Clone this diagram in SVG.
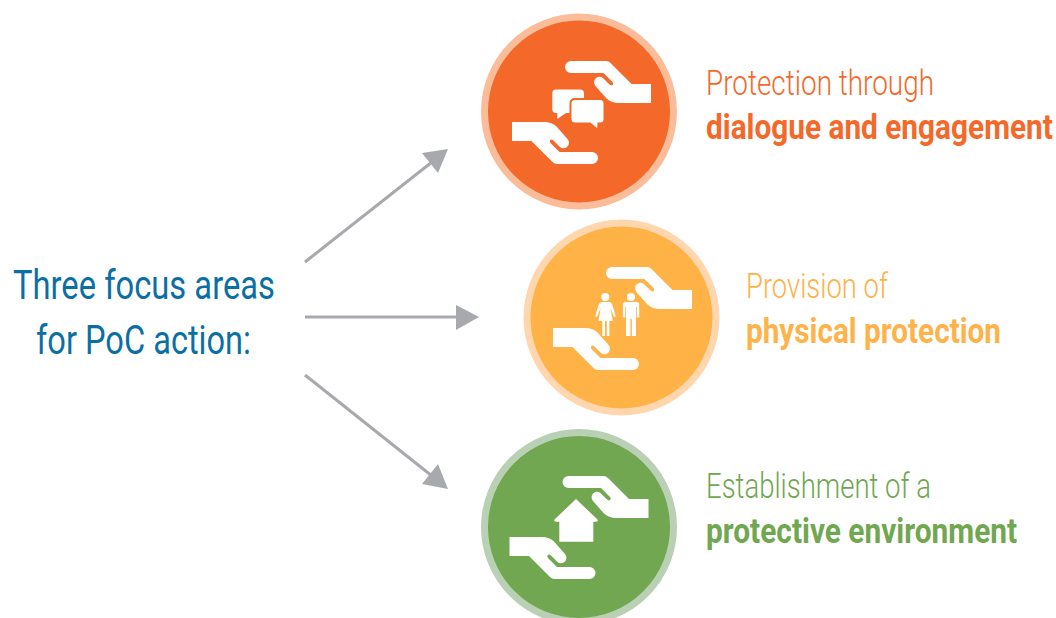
<svg xmlns="http://www.w3.org/2000/svg" xmlns:xlink="http://www.w3.org/1999/xlink" width="1056" height="618" viewBox="0 0 1056 618">
<style>
text{font-family:Roboto,"Liberation Sans",sans-serif;font-size:35px;font-weight:300}
.b{font-weight:700}
.t{font-size:41px;font-weight:400;fill:#0b6fa4}
.w{fill:#fff}
.o{fill:#f4692a;stroke:#fbbd99}
.y{fill:#ffb347;stroke:#ffd6ad}
.g{fill:#70a750;stroke:#b9d0b5}
.ring{stroke-width:7}
.line{fill:none;stroke:#a7a9ac;stroke-width:3}
.head{fill:#a7a9ac}
</style>
<defs>
<path id="hand" class="w" d="M571 61H606Q608.500 61 610.500 63L631.500 84H651V103H619Q611 103 606 98L595.500 86A5.500 5.500 0 0 1 603 78L609 84Q611.500 86.500 613 84.500Q613.500 83 612.500 82L603.500 73H571A6 6 0 0 1 571 61Z"/>
<g id="hands">
<use href="#hand"/>
<use href="#hand" transform="rotate(180 581.500 112.500)"/>
</g>
</defs>
<rect width="1056" height="618" fill="#fff"/>
<g id="connectors">
<path class="line" d="M305 262L432 162"/>
<path class="head" d="M448 149L422 153L438 173Z"/>
<path class="line" d="M305 317H458"/>
<path class="head" d="M479 317L456 305V330Z"/>
<path class="line" d="M305 375L432 476"/>
<path class="head" d="M448 489L422 484L438 464Z"/>
</g>
<g id="title">
<text class="t" x="13" y="299" textLength="262" lengthAdjust="spacingAndGlyphs">Three focus areas</text>
<text class="t" x="36" y="354" textLength="215" lengthAdjust="spacingAndGlyphs">for PoC action:</text>
</g>
<g id="node-dialogue">
<circle class="o ring" cx="579" cy="111.500" r="94.500"/>
<use href="#hands"/>
<path class="w" d="M556 89.500H580Q584 89.500 584 93.500V109Q584 113 580 113H566L557.300 119V113H556Q552.300 113 552.300 109V93.500Q552.300 89.500 556 89.500Z"/>
<path class="w" stroke="#f4692a" stroke-width="2" d="M575 99H600Q604.500 99 604.500 103.500V119Q604.500 123.500 600 123.500H598.500L598 130L590 123.500H575Q570.500 123.500 570.500 119V103.500Q570.500 99 575 99Z"/>
<text x="706" y="94.500" textLength="228" lengthAdjust="spacingAndGlyphs" fill="#f4692a">Protection through</text>
<text class="b" transform="translate(706 139) scale(.85 1)" textLength="408" lengthAdjust="spacingAndGlyphs" fill="#f4692a">dialogue and engagement</text>
</g>
<g id="node-physical">
<circle class="y ring" cx="621.500" cy="317.500" r="94.500"/>
<use href="#hands" transform="translate(41 206)"/>
<circle class="w" cx="605.300" cy="297" r="4"/>
<path class="w" d="M601.500 302H609.500Q611.500 302 612.300 304.500L615.800 316.500L614.200 317.200L610.500 308L612.800 321H609.400V336H606.800V321H605V336H602.300V321H598.500L600.600 308L596.900 317.200L595.200 316.500L598.700 304.500Q599.500 302 601.500 302Z"/>
<circle class="w" cx="631" cy="297" r="4"/>
<path class="w" d="M625.500 302H636.500Q639.200 302 639.200 304.500V317.500H636.800V307H636V336H631.800V319H630.400V336H626V307H625.300V317.500H622.900V304.500Q622.900 302 625.500 302Z"/>
<text x="746" y="297.500" textLength="142" lengthAdjust="spacingAndGlyphs" fill="#fdb24a">Provision of</text>
<text class="b" x="746" y="342.500" textLength="255" lengthAdjust="spacingAndGlyphs" fill="#fdb24a">physical protection</text>
</g>
<g id="node-environment">
<circle class="g ring" cx="579" cy="527" r="94.500"/>
<use href="#hands" transform="translate(-2.500 415)"/>
<path class="w" d="M576 499L597.500 519.500Q598.500 521.700 596 521.700H593.300V541.700H559.300V521.700H556Q553.500 521.700 554.500 519.500Z"/>
<text x="706" y="497.500" textLength="225" lengthAdjust="spacingAndGlyphs" fill="#70a750">Establishment of a</text>
<text class="b" transform="translate(706 542.500) scale(.85 1)" textLength="366" lengthAdjust="spacingAndGlyphs" fill="#70a750">protective environment</text>
</g>
</svg>
